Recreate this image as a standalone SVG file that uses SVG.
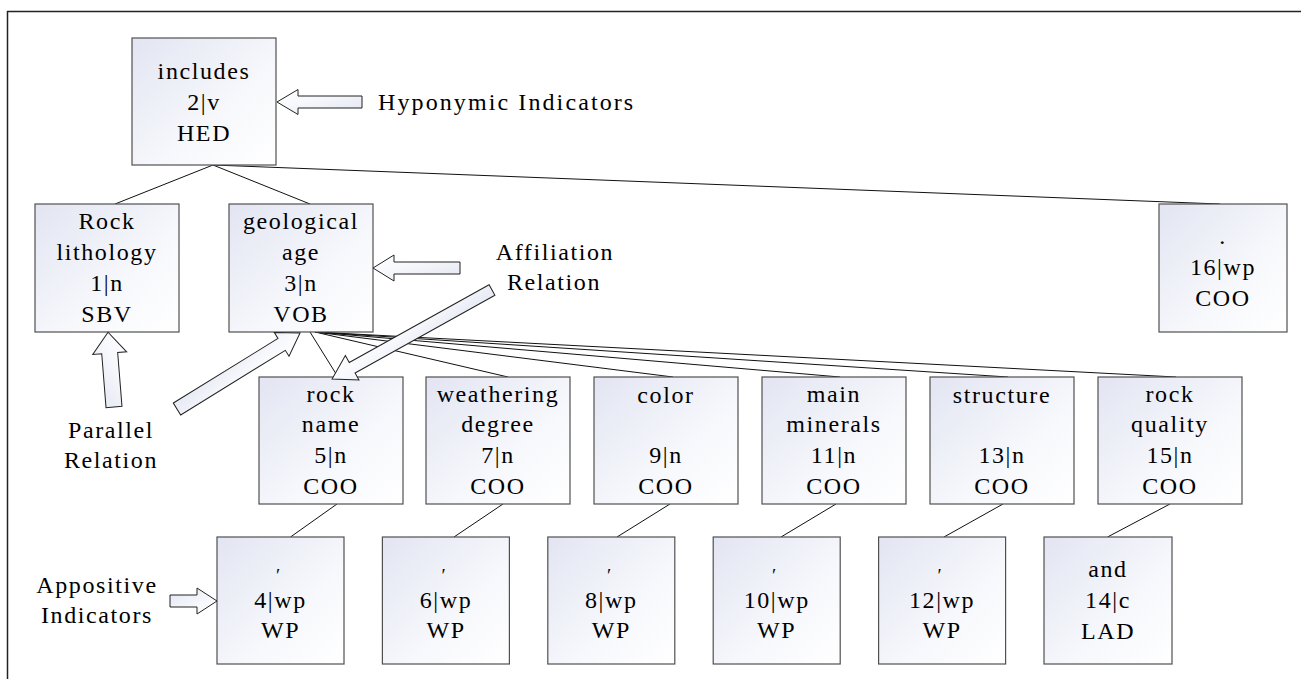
<svg xmlns="http://www.w3.org/2000/svg" width="1301" height="679" viewBox="0 0 1301 679">
<style>
.box{fill:url(#g);stroke:#505050;stroke-width:1.2}
.arr{fill:url(#g);stroke:#222;stroke-width:1}
.t{font-family:"Liberation Serif","Times New Roman",serif;font-size:24px;fill:#000;text-anchor:middle;letter-spacing:1.6px}
.ts{font-family:"Liberation Serif","Times New Roman",serif;font-size:24px;fill:#000;letter-spacing:2.1px}
.pr{font-family:"Liberation Serif","Times New Roman",serif;font-size:19px;fill:#000;text-anchor:middle}
.c line{stroke:#111;stroke-width:1}
</style>
<defs>
<linearGradient id="g" x1="0" y1="0" x2="1" y2="1">
<stop offset="0" stop-color="#e2e5f2"/>
<stop offset="0.6" stop-color="#f7f8fc"/>
<stop offset="1" stop-color="#ffffff"/>
</linearGradient>
</defs>
<rect width="1301" height="679" fill="#fff"/>
<g id="border" stroke="#222" stroke-width="1.5" fill="none">
<line x1="7" y1="11.5" x2="1301" y2="11.5"/>
<line x1="7.5" y1="11" x2="7.5" y2="679"/>
</g>
<g id="connectors" class="c">
<line x1="213" y1="165" x2="115" y2="204"/>
<line x1="213" y1="165" x2="310" y2="204"/>
<line x1="213" y1="165" x2="1220" y2="204"/>
<line x1="310" y1="332" x2="338" y2="377"/>
<line x1="315" y1="332" x2="508" y2="377"/>
<line x1="315" y1="332" x2="673" y2="377"/>
<line x1="315" y1="332" x2="840" y2="377"/>
<line x1="315" y1="332" x2="1008" y2="377"/>
<line x1="315" y1="332" x2="1176" y2="377"/>
<line x1="337" y1="504" x2="290.5" y2="537"/>
<line x1="503" y1="504" x2="454" y2="537"/>
<line x1="670" y1="504" x2="617" y2="537"/>
<line x1="836" y1="504" x2="781" y2="537"/>
<line x1="1003" y1="504" x2="944" y2="537"/>
<line x1="1170" y1="504" x2="1107.5" y2="537"/>
</g>
<g id="n2">
<rect class="box" x="132" y="38" width="144" height="127"/>
<text class="t" x="204" y="79">includes</text>
<text class="t" x="204" y="110">2|v</text>
<text class="t" x="204" y="141">HED</text>
</g>
<g id="n1">
<rect class="box" x="35" y="204" width="144" height="128"/>
<text class="t" x="107" y="229">Rock</text>
<text class="t" x="107" y="260">lithology</text>
<text class="t" x="107" y="291">1|n</text>
<text class="t" x="107" y="322">SBV</text>
</g>
<g id="n3">
<rect class="box" x="229" y="204" width="144" height="128"/>
<text class="t" x="301" y="229">geological</text>
<text class="t" x="301" y="260">age</text>
<text class="t" x="301" y="291">3|n</text>
<text class="t" x="301" y="322">VOB</text>
</g>
<g id="n16">
<rect class="box" x="1159" y="204" width="128" height="128"/>
<text class="t" x="1223" y="244">.</text>
<text class="t" x="1223" y="275">16|wp</text>
<text class="t" x="1223" y="306">COO</text>
</g>
<g id="n5">
<rect class="box" x="259" y="377" width="144" height="127"/>
<text class="t" x="331" y="402">rock</text>
<text class="t" x="331" y="432">name</text>
<text class="t" x="331" y="463">5|n</text>
<text class="t" x="331" y="494">COO</text>
</g>
<g id="n7">
<rect class="box" x="426" y="377" width="144" height="127"/>
<text class="t" x="498" y="402">weathering</text>
<text class="t" x="498" y="432">degree</text>
<text class="t" x="498" y="463">7|n</text>
<text class="t" x="498" y="494">COO</text>
</g>
<g id="n9">
<rect class="box" x="594" y="377" width="144" height="127"/>
<text class="t" x="666" y="403">color</text>
<text class="t" x="666" y="463">9|n</text>
<text class="t" x="666" y="494">COO</text>
</g>
<g id="n11">
<rect class="box" x="762" y="377" width="144" height="127"/>
<text class="t" x="834" y="402">main</text>
<text class="t" x="834" y="432">minerals</text>
<text class="t" x="834" y="463">11|n</text>
<text class="t" x="834" y="494">COO</text>
</g>
<g id="n13">
<rect class="box" x="930" y="377" width="144" height="127"/>
<text class="t" x="1002" y="403">structure</text>
<text class="t" x="1002" y="463">13|n</text>
<text class="t" x="1002" y="494">COO</text>
</g>
<g id="n15">
<rect class="box" x="1098" y="377" width="144" height="127"/>
<text class="t" x="1170" y="402">rock</text>
<text class="t" x="1170" y="432">quality</text>
<text class="t" x="1170" y="463">15|n</text>
<text class="t" x="1170" y="494">COO</text>
</g>
<g id="n4">
<rect class="box" x="217" y="537" width="127" height="127"/>
<text class="pr" x="278" y="582">′</text>
<text class="t" x="280.5" y="608">4|wp</text>
<text class="t" x="280.5" y="638">WP</text>
</g>
<g id="n6">
<rect class="box" x="382.4" y="537" width="127" height="127"/>
<text class="pr" x="443.5" y="582">′</text>
<text class="t" x="446" y="608">6|wp</text>
<text class="t" x="446" y="638">WP</text>
</g>
<g id="n8">
<rect class="box" x="547.8" y="537" width="127" height="127"/>
<text class="pr" x="609" y="582">′</text>
<text class="t" x="611.3" y="608">8|wp</text>
<text class="t" x="611.3" y="638">WP</text>
</g>
<g id="n10">
<rect class="box" x="713.2" y="537" width="127" height="127"/>
<text class="pr" x="774" y="582">′</text>
<text class="t" x="776.7" y="608">10|wp</text>
<text class="t" x="776.7" y="638">WP</text>
</g>
<g id="n12">
<rect class="box" x="878.6" y="537" width="127" height="127"/>
<text class="pr" x="939.5" y="582">′</text>
<text class="t" x="942.1" y="608">12|wp</text>
<text class="t" x="942.1" y="638">WP</text>
</g>
<g id="n14">
<rect class="box" x="1044" y="537" width="128" height="127"/>
<text class="t" x="1108" y="577">and</text>
<text class="t" x="1108" y="608">14|c</text>
<text class="t" x="1108" y="639">LAD</text>
</g>
<g id="annotations">
<path class="arr" transform="translate(362,102) rotate(180)" d="M0,-6 H64 V-12.5 L85,0 L64,12.5 V6 H0 Z"/>
<text class="ts" x="378" y="110">Hyponymic Indicators</text>
<path class="arr" transform="translate(460,268) rotate(180)" d="M0,-6 H66 V-13 L87,0 L66,13 V6 H0 Z"/>
<path class="arr" transform="translate(492,290) rotate(150.92)" d="M0,-6 H160 V-14 L183,0 L160,14 V6 H0 Z"/>
<text class="t" x="555" y="260">Affiliation</text>
<text class="t" x="554" y="290">Relation</text>
<path class="arr" transform="translate(114,407) rotate(-94.57)" d="M0,-8 H54 V-17 L75,0 L54,17 V8 H0 Z"/>
<path class="arr" transform="translate(177,409) rotate(-31.7)" d="M0,-7 H123 V-14 L144.6,0 L123,14 V7 H0 Z"/>
<text class="t" x="111" y="438">Parallel</text>
<text class="t" x="111" y="468">Relation</text>
<path class="arr" transform="translate(170,601)" d="M0,-6 H27 V-13 L47,0 L27,13 V6 H0 Z"/>
<text class="t" x="97" y="593">Appositive</text>
<text class="t" x="97" y="623">Indicators</text>
</g>
</svg>
